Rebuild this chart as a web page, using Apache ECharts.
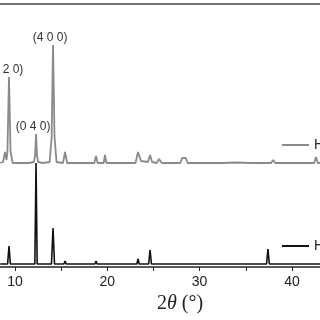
<!DOCTYPE html>
<html>
<head>
<meta charset="utf-8">
<script src="https://cdn.jsdelivr.net/npm/echarts@6/dist/echarts.min.js"></script>
<style>html,body{margin:0;padding:0;background:#fff}#c{width:320px;height:320px}</style>
</head>
<body>
<div id="c"></div>
<script>
// Top (grey) pattern, offset upward
var grayTheta = [8.4,8.7,8.92,9.08,9.18,9.35,9.52,9.75,10.5,11.5,12.05,12.18,12.28,12.38,12.5,13.0,13.75,13.97,14.12,14.28,14.5,15.2,15.42,15.65,16.5,17.5,18.6,18.78,18.95,19.6,19.75,19.9,21,22,23.05,23.33,23.65,24.4,24.63,24.85,25.35,25.6,25.9,26.8,27.0,27.2,27.9,28.1,28.3,28.5,28.7,29.5,29.7,29.9,31,32.5,34,35.5,37,37.75,37.95,38.2,39.5,41,42.4,42.6,42.8,43.1];
var grayIntensity = [104,105,115,107,115,190,115,104,104,104,105,112,133,112,105,104,105,130,222,130,105,104,115,104,104,104,104,111,104,104,112,104,104,104,104,115,106,105,112,105,104,108,104,104,106,104,104,109,108,109,104,104,106,104,104,104,104.5,104,104,104,107,104,104,104,104,110,104,104];
// Bottom (black) pattern
var blackTheta = [8.4,9.2,9.35,9.5,12.15,12.28,12.4,13.95,14.12,14.28,15.3,15.42,15.55,18.65,18.78,18.9,19.65,19.75,19.85,23.2,23.33,23.46,24.48,24.63,24.78,28.1,28.2,28.3,37.25,37.4,37.55,43.1];
var blackIntensity = [3,3,21,3,3,104,3,3,39,3,3,6,3,3,6,3,3,5,3,3,8,3,3,17,3,3,5,3,3,18,3,3];
// Peak labels on the grey pattern
var labelTheta = [9.35, 12.28, 14.12];
var labelIntensity = [190, 133, 222];
var labelText = ['(0 2 0)', '(0 4 0)', '(4 0 0)'];
var tickValues = [10,15,20,25,30,35,40];
var tickLabels = [10,20,30,40];
var seriesNames = ['H-1', 'H-2'];

var grayData = grayTheta.map(function(t, i){ return [t, grayIntensity[i]]; });
var blackData = blackTheta.map(function(t, i){ return [t, blackIntensity[i]]; });
var markData = labelTheta.map(function(t, i){
  return {coord:[t, labelIntensity[i]], value:labelText[i]};
});

var chart = echarts.init(document.getElementById('c'));
chart.setOption({
  animation:false,
  backgroundColor:'#fff',
  grid:{left:0, right:0, top:4, bottom:53},
  xAxis:[{
    type:'value', min:8.375, max:43.04,
    axisLine:{show:true, lineStyle:{color:'#222', width:1.5}},
    axisTick:{show:true, inside:false, length:4, customValues:tickValues, lineStyle:{color:'#222'}},
    axisLabel:{show:true, customValues:tickLabels, fontSize:14, color:'#222', margin:8, fontFamily:'Liberation Sans'},
    splitLine:{show:false}
  },{
    type:'value', position:'top', min:8.375, max:43.04,
    axisLine:{show:true, lineStyle:{color:'#444', width:1.5}},
    axisTick:{show:false}, axisLabel:{show:false}, splitLine:{show:false}
  }],
  yAxis:{type:'value', min:0, max:263, show:false},
  legend:[{
    data:[seriesNames[0]], left:277, top:133, icon:'rect', itemWidth:27, itemHeight:2,
    textStyle:{fontSize:14, color:'#222', fontFamily:'Liberation Sans'}
  },{
    data:[seriesNames[1]], left:277, top:234, icon:'rect', itemWidth:27, itemHeight:2,
    textStyle:{fontSize:14, color:'#222', fontFamily:'Liberation Sans'}
  }],
  series:[{
    name:seriesNames[0], type:'line', data:grayData, symbol:'none',
    lineStyle:{color:'#8a8a8a', width:1.8}, itemStyle:{color:'#8a8a8a'},
    markPoint:{
      symbol:'circle', symbolSize:0, silent:true,
      label:{show:true, position:'top', distance:1, offset:[-3,0], fontSize:12, color:'#333', fontFamily:'Liberation Sans', formatter:'{c}'},
      data:markData
    }
  },{
    name:seriesNames[1], type:'line', data:blackData, symbol:'none',
    lineStyle:{color:'#111', width:1.6}, itemStyle:{color:'#111'}
  }],
  graphic:[{
    type:'text', left:157, top:294,
    style:{
      text:'{a|2}{b|θ}{a| (°)}',
      rich:{
        a:{fontFamily:'Liberation Serif', fontSize:20, fill:'#222'},
        b:{fontFamily:'Liberation Serif', fontSize:20, fontStyle:'italic', fill:'#222'}
      }
    }
  }]
});
</script>
</body>
</html>
